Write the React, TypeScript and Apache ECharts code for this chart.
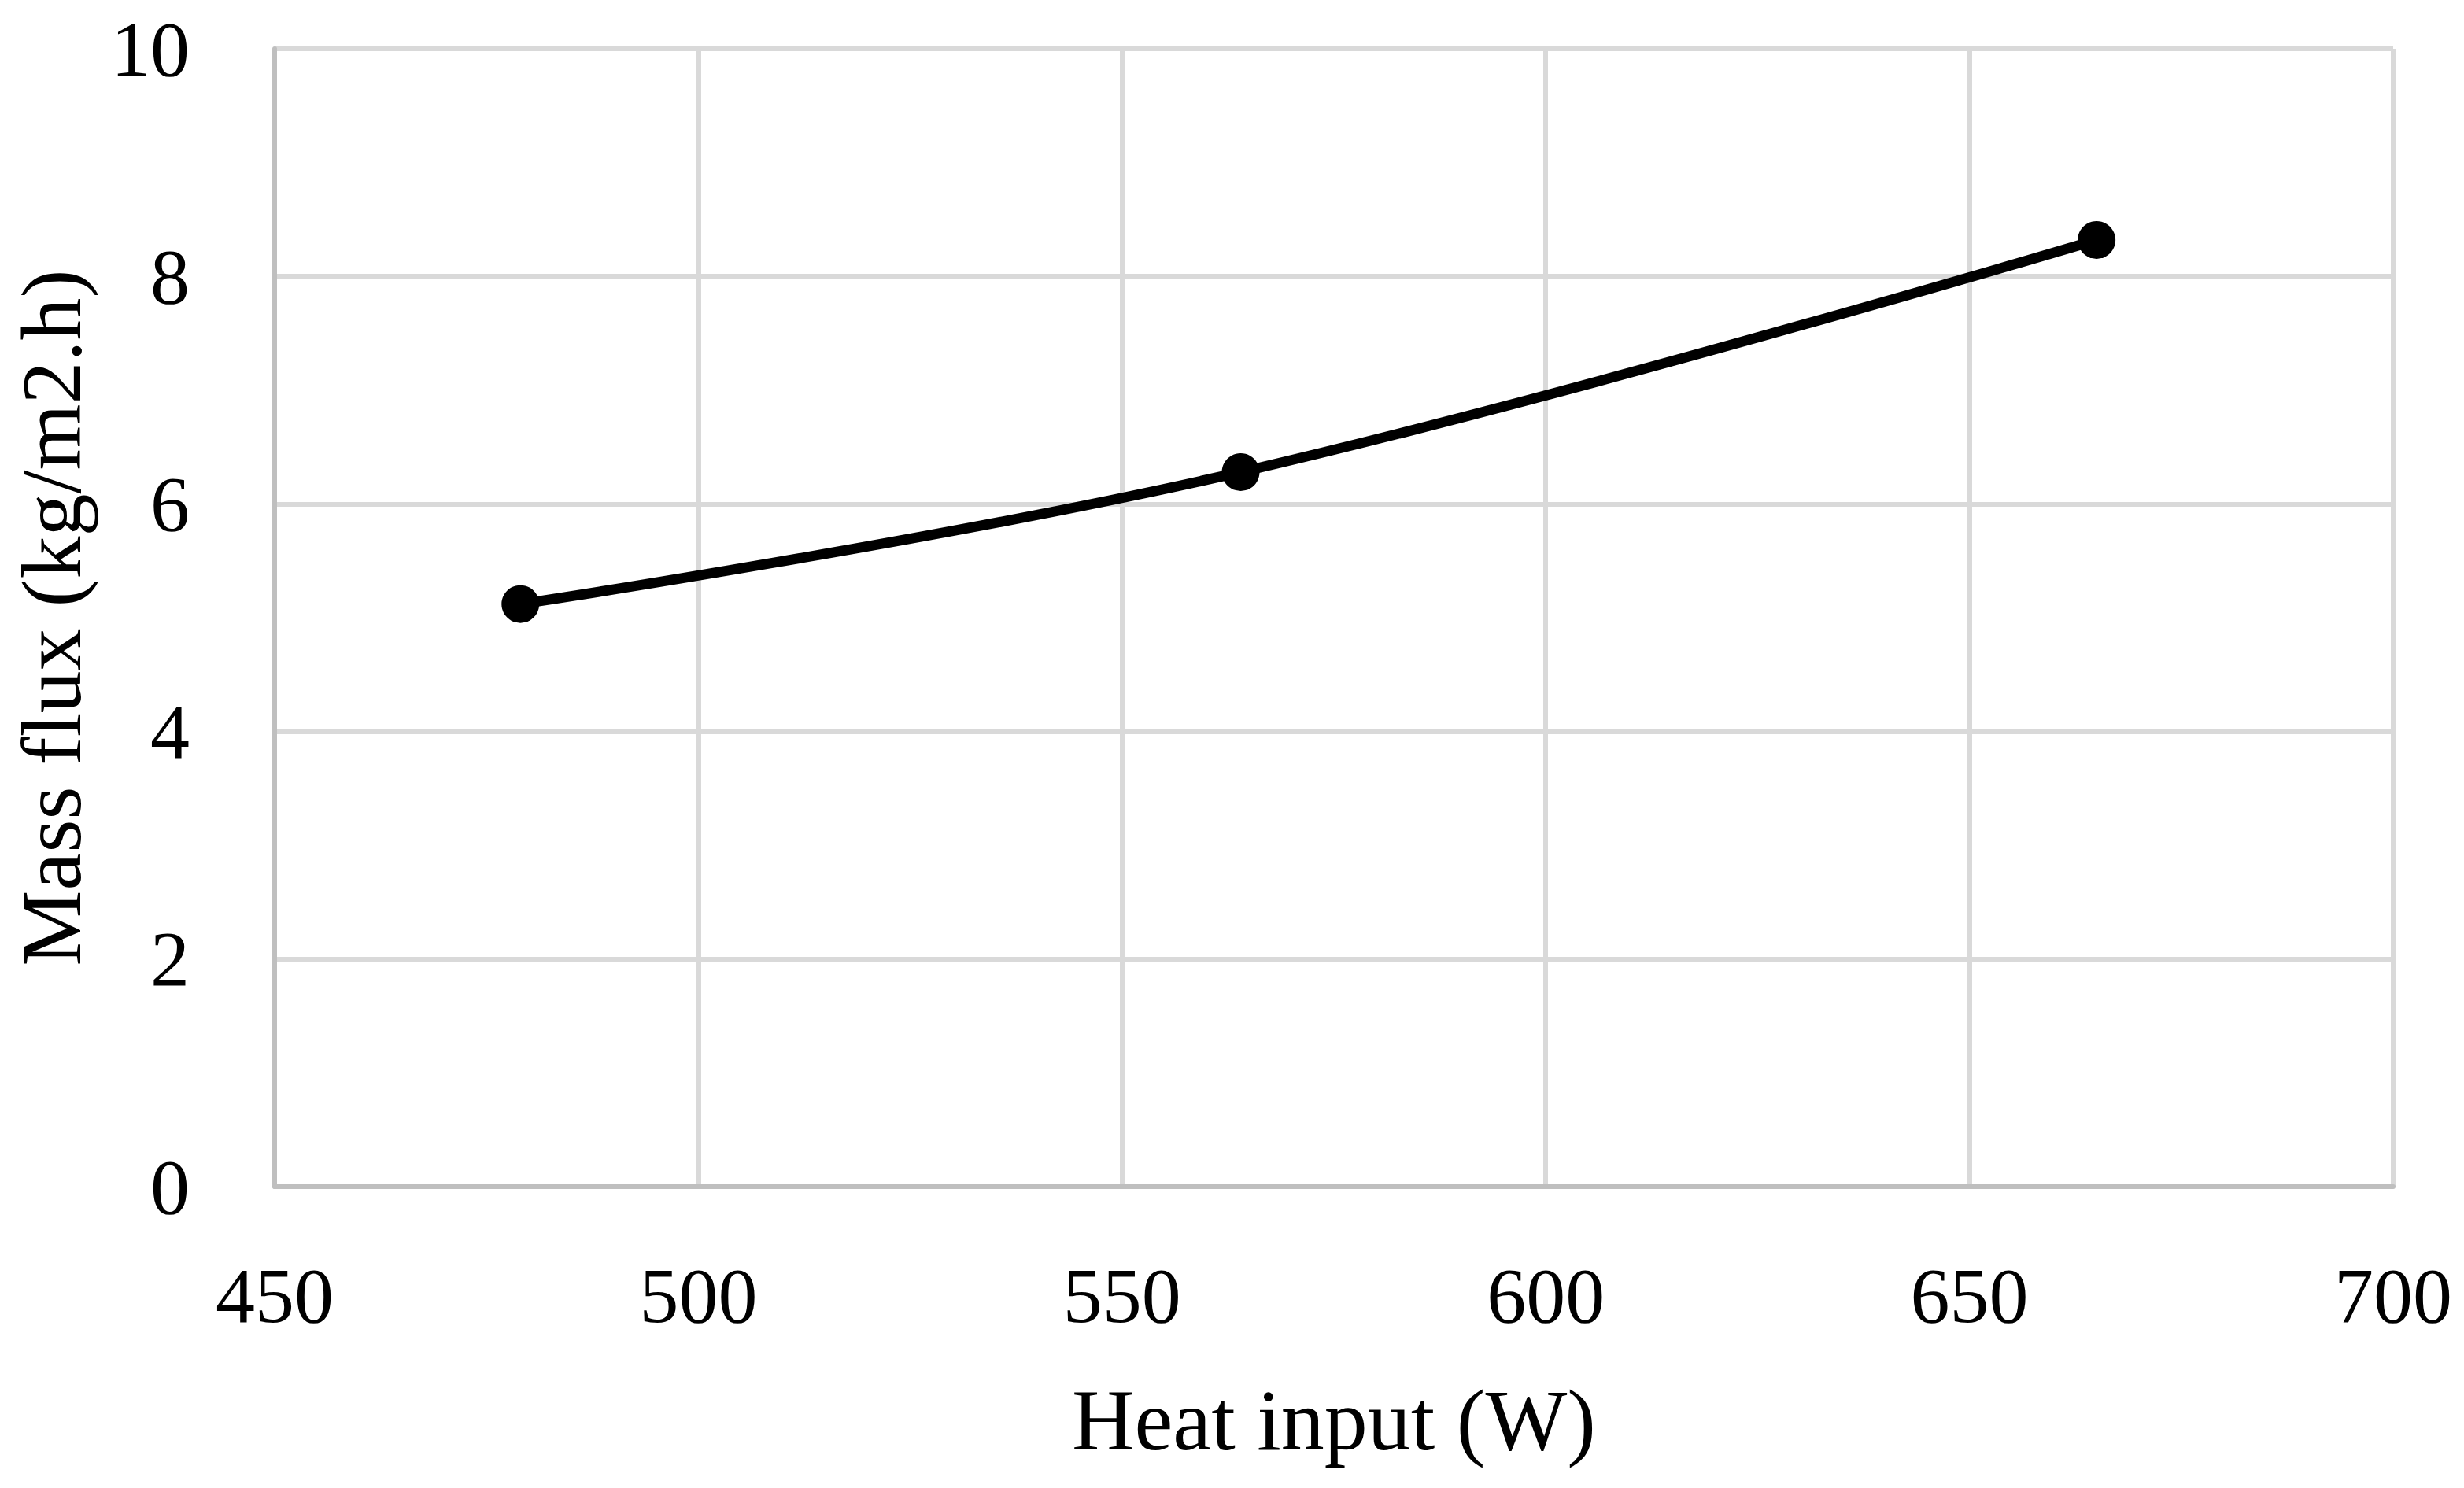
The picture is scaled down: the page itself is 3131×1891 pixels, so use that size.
import React, { useEffect, useRef } from "react";
import * as echarts from "echarts";

const heatInput = [479, 564, 665];
const massFlux = [5.12, 6.28, 8.32];
const xTitle = "Heat input (W)";
const yTitle = "Mass flux (kg/m2.h)";
const FONT = "'Liberation Serif', 'Times New Roman', serif";

export default function App() {
  const ref = useRef<HTMLDivElement>(null);
  useEffect(() => {
    if (!ref.current) return;
    const chart = echarts.init(ref.current, null, { renderer: "svg" });
    chart.setOption({
      animation: false,
      backgroundColor: "#ffffff",
      grid: { left: 349, right: 90, top: 62, bottom: 383, containLabel: false },
      xAxis: {
        type: "value",
        min: 450,
        max: 700,
        interval: 50,
        name: xTitle,
        nameLocation: "middle",
        nameGap: 242,
        nameTextStyle: { fontFamily: FONT, fontSize: 110, color: "#000" },
        axisLine: { show: true, onZero: false, lineStyle: { color: "#bfbfbf", width: 6 } },
        axisTick: { show: false },
        axisLabel: { fontFamily: FONT, fontSize: 100, color: "#000", margin: 88 },
        splitLine: { show: true, lineStyle: { color: "#d9d9d9", width: 6 } },
      },
      yAxis: {
        type: "value",
        min: 0,
        max: 10,
        interval: 2,
        name: yTitle,
        nameLocation: "middle",
        nameGap: 230,
        nameTextStyle: { fontFamily: FONT, fontSize: 108, color: "#000" },
        axisLine: { show: true, lineStyle: { color: "#bfbfbf", width: 6 } },
        axisTick: { show: false },
        axisLabel: { fontFamily: FONT, fontSize: 100, color: "#000", margin: 108 },
        splitLine: { show: true, lineStyle: { color: "#d9d9d9", width: 6 } },
      },
      series: [
        {
          type: "line",
          data: heatInput.map((x, i) => [x, massFlux[i]]),
          smooth: 0.4,
          symbol: "circle",
          symbolSize: 48,
          itemStyle: { color: "#000" },
          lineStyle: { color: "#000", width: 13 },
        },
      ],
    });
    return () => chart.dispose();
  }, []);
  return (
    <div
      ref={ref}
      style={{ position: "absolute", left: 0, top: 0, width: 3131, height: 1891 }}
    />
  );
}
